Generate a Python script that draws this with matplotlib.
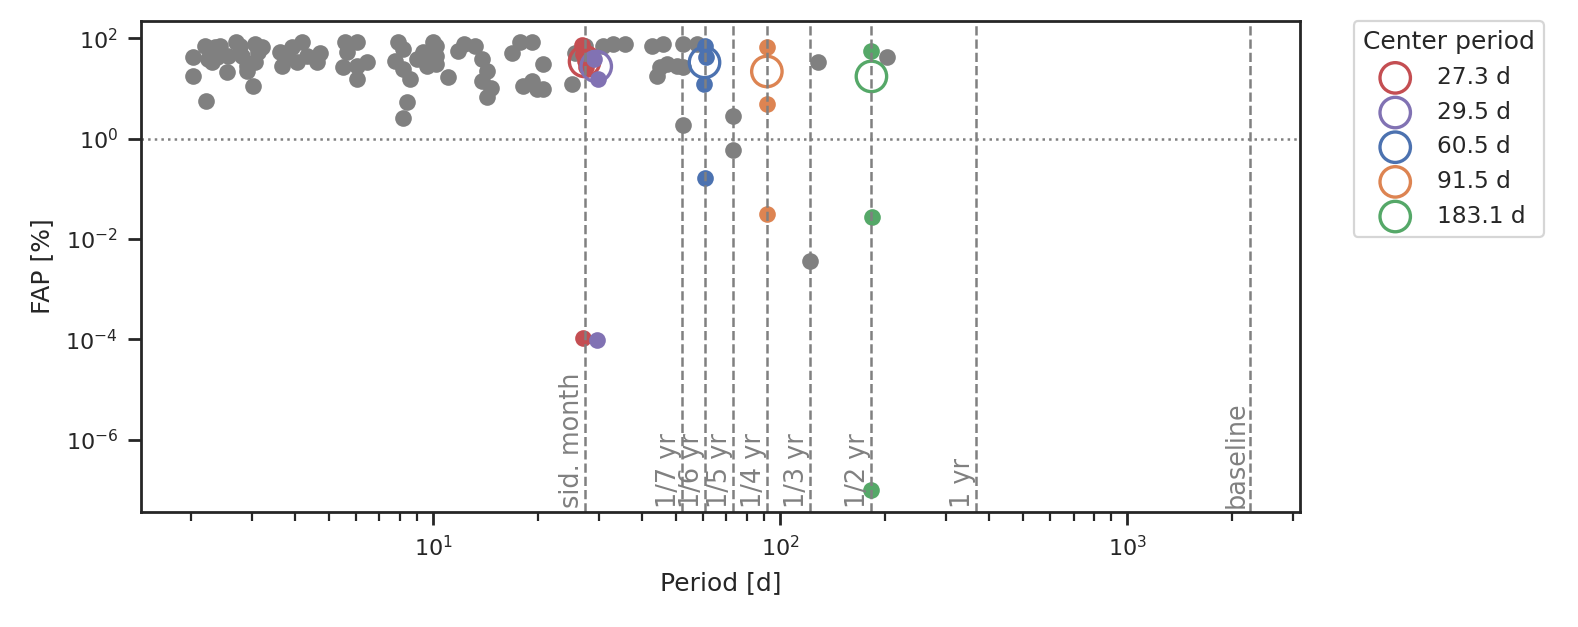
import numpy as np
import matplotlib
matplotlib.use("Agg")
import matplotlib.pyplot as plt
import matplotlib.ticker as mticker
import seaborn as sns

sns.set_theme(style="ticks", context="paper")
plt.rcParams["font.family"] = ["DejaVu Sans"]

# periods [d] and false-alarm probabilities [%] of all other peaks
gray_period = [2.03, 2.03, 2.21, 2.20, 2.35, 2.43, 2.24, 2.30, 2.38, 2.54,
               2.56, 2.71, 2.77, 2.82, 2.90, 2.90, 3.02, 3.06, 3.12, 3.21,
               3.06, 3.61, 3.68, 3.78, 3.91, 4.18, 4.04, 4.32, 4.62, 4.71,
               5.56, 6.02, 5.63, 5.48, 6.02, 6.43, 6.02, 7.90, 8.17, 7.74,
               8.17, 8.55, 8.39, 8.17, 8.96, 9.33, 9.58, 10.0, 10.2, 10.2,
               10.2, 11.0, 11.8, 12.3, 13.2, 13.8, 14.3, 13.8, 14.7, 14.3,
               16.9, 17.8, 19.2, 20.7, 18.1, 19.2, 19.9, 20.7, 25.6, 27.3,
               25.2, 30.8, 32.9, 35.6, 42.6, 45.9, 45.0, 44.1, 47.1, 50.3,
               52.4, 52.4, 52.4, 57.4, 73.0, 73.0, 121.6, 128.3, 202.8]
gray_fap = [41.4, 17.3, 5.48, 68.6, 65.5, 68.6, 37.7, 32.9, 41.4, 20.8,
            43.3, 82.4, 68.6, 43.3, 27.4, 21.7, 10.9, 75.2, 52.1, 65.5,
            32.9, 52.1, 27.4, 41.4, 65.5, 82.4, 32.9, 43.3, 32.9, 49.7,
            82.4, 82.4, 52.1, 26.1, 27.4, 32.9, 15.1, 82.4, 59.7, 34.4,
            23.8, 15.1, 5.23, 2.51, 37.7, 52.1, 27.4, 82.4, 43.3, 68.6,
            30.0, 16.5, 54.5, 75.2, 68.6, 37.7, 21.7, 13.7, 10.4, 6.58,
            49.7, 82.4, 82.4, 30.0, 10.9, 13.7, 9.5, 9.5, 49.7, 68.6,
            12.0, 68.6, 75.2, 75.2, 68.6, 75.2, 26.1, 17.3, 30.0, 27.4,
            26.1, 75.2, 1.82, 75.2, 2.75, 0.603, 0.00367, 32.9, 41.4]

# peaks grouped by center period
red_period = [26.9, 27.0, 27.3, 27.6, 27.1]
red_fap = [71.8, 47.5, 34.4, 26.1, 1.07e-4]
purple_period = [29.0, 29.8, 29.6]
purple_fap = [37.7, 15.1, 9.7e-5]
blue_period = [60.5, 61.0, 60.2, 60.5]
blue_fap = [68.6, 41.4, 12.0, 0.167]
orange_period = [91.5, 91.5, 91.5]
orange_fap = [65.5, 4.77, 0.0318]
green_period = [183.1, 184.0, 183.1]
green_fap = [54.5, 0.0277, 1.0e-7]

center_period = [27.3, 29.5, 60.5, 91.5, 183.1]
center_fap = [34.4, 27.4, 32.9, 21.7, 17.3]
center_labels = ["27.3 d", "29.5 d", "60.5 d", "91.5 d", "183.1 d"]

line_period = [27.32, 365.25 / 7, 365.25 / 6, 365.25 / 5, 365.25 / 4,
               365.25 / 3, 365.25 / 2, 365.25, 2254]
line_labels = ["sid. month", "1/7 yr", "1/6 yr", "1/5 yr", "1/4 yr",
               "1/3 yr", "1/2 yr", "1 yr", "baseline"]

colors = ["#C44E52", "#8172B3", "#4C72B0", "#DD8452", "#55A868"]
groups = [(red_period, red_fap), (purple_period, purple_fap),
          (blue_period, blue_fap), (orange_period, orange_fap),
          (green_period, green_fap)]

fig = plt.figure(figsize=(7.89, 3.135), dpi=200)
ax = fig.add_axes([0.0894, 0.1834, 0.7346, 0.7831])

ax.scatter(gray_period, gray_fap, s=36, color="gray", linewidths=0)

for (p, f), c, cp, cf, lab in zip(groups, colors, center_period,
                                  center_fap, center_labels):
    ax.scatter(p, f, s=36, color=c, linewidths=0)
    ax.scatter([cp], [cf], s=120, facecolors="none", edgecolors=c,
               linewidths=1.2, label=lab)

for p, lab in zip(line_period, line_labels):
    ax.axvline(p, color="gray", ls="--", lw=0.9)
    ax.text(p, 0.008, lab, rotation=90, ha="right", va="bottom",
            color="gray", fontsize=9.2,
            transform=ax.get_xaxis_transform())

ax.axhline(1, color="gray", ls=":", lw=0.9)

ax.set_xscale("log")
ax.set_yscale("log")
ax.set_xlim(1.44, 3150)
ax.set_ylim(3.6e-8, 220)
ax.yaxis.set_minor_locator(mticker.NullLocator())
ax.tick_params(labelsize=8)
ax.set_xlabel("Period [d]", fontsize=9)
ax.set_ylabel("FAP [%]", fontsize=9)

ax.legend(title="Center period", loc="upper left",
          bbox_to_anchor=(1.046, 1.0), borderaxespad=0,
          fontsize=8.4, title_fontsize=9)

fig.savefig("out.png", dpi=200)
